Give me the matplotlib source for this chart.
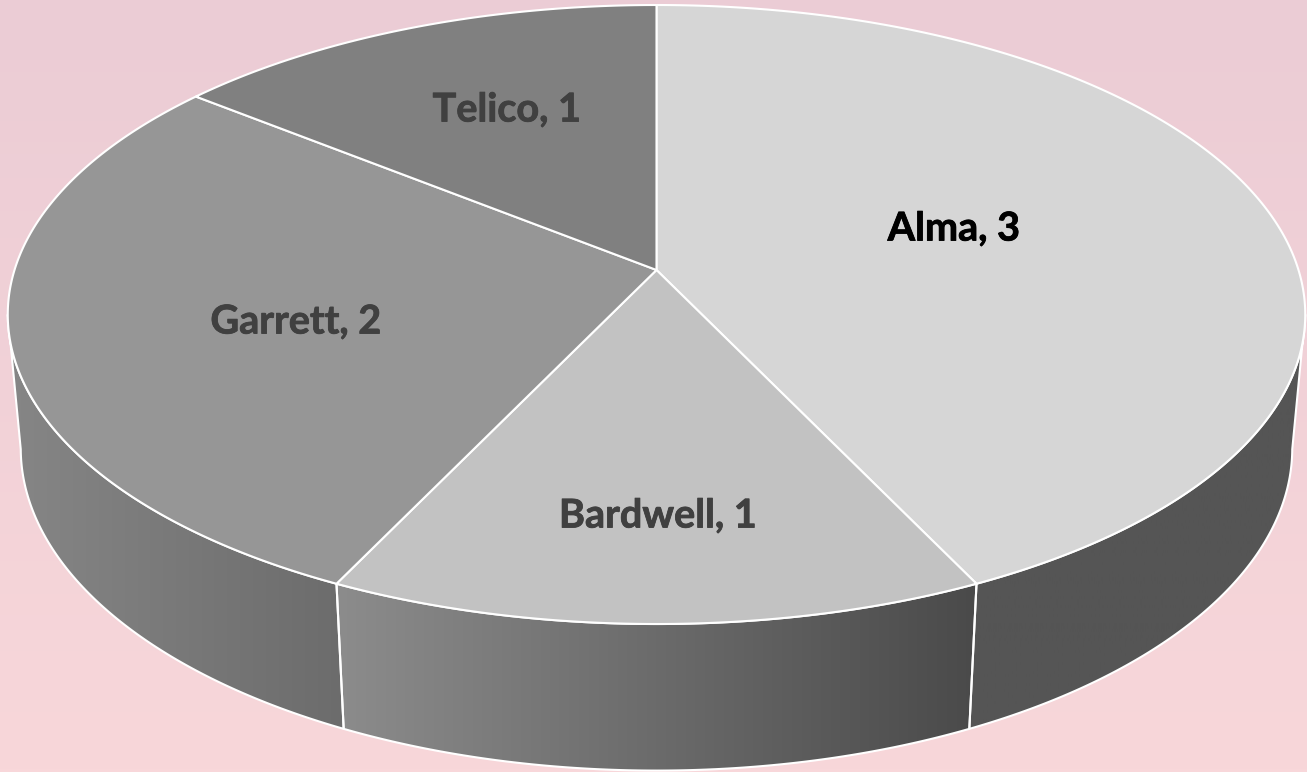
import numpy as np
import matplotlib
matplotlib.use("Agg")
import matplotlib.pyplot as plt
from matplotlib.patches import Polygon
from matplotlib.colors import LinearSegmentedColormap
import matplotlib.patheffects as pe

categories = ["Alma", "Bardwell", "Garrett", "Telico"]
values = [3, 1, 2, 1]

top_colors = ["#d6d6d6", "#c2c2c2", "#969696", "#808080"]
side_grad = {"Alma": ("#555555", "#555555"),
             "Bardwell": ("#8c8c8c", "#4a4a4a"),
             "Garrett": ("#868686", "#6c6c6c")}
label_colors = ["#000000", "#404040", "#404040", "#404040"]
label_pos = [(954, 229), (658, 516), (296, 322), (507, 110)]

# perspective projection of the pie disc onto the picture
CX, CY, A, B, K = 656.5, 270.0, 642.0, 303.1, 0.1438
M, C = 0.020, 135.5


def project(theta, depth=0.0):
    """theta clockwise from 12 o'clock; depth 0 = top face, 1 = bottom face."""
    u, v = np.sin(theta), np.cos(theta)
    w = 1 + K * v + M * depth
    return CX + A * u / w, CY + (-B * v + C * depth) / w


fig = plt.figure(figsize=(13.07, 7.72), dpi=100)
ax = fig.add_axes([0, 0, 1, 1])

bg = LinearSegmentedColormap.from_list("bg", ["#ebccd5", "#f8d7da"])
ax.imshow(np.linspace(0, 1, 256).reshape(-1, 1), cmap=bg, extent=(0, 1307, 772, 0),
          aspect="auto", zorder=0)

fractions = np.cumsum([0] + values) / np.sum(values)
angles = 2 * np.pi * fractions
visible_from = np.arccos(-K)          # silhouette of the disc, right side
visible_to = 2 * np.pi - visible_from  # left side

# side walls
for i, name in enumerate(categories):
    if name not in side_grad:
        continue
    t0 = max(angles[i], visible_from)
    t1 = min(angles[i + 1], visible_to)
    t = np.linspace(t0, t1, 200)
    xt, yt = project(t)
    xb, yb = project(t, 1)
    pts = np.column_stack([np.r_[xt, xb[::-1]], np.r_[yt, yb[::-1]]])
    x_min, x_max = pts[:, 0].min(), pts[:, 0].max()
    cmap = LinearSegmentedColormap.from_list(name, side_grad[name])
    poly = Polygon(pts, closed=True, facecolor="none", edgecolor="none")
    ax.add_patch(poly)
    im = ax.imshow(np.linspace(0, 1, 256).reshape(1, -1), cmap=cmap, vmin=0, vmax=1,
                   extent=(x_min, x_max, 772, 0), aspect="auto", zorder=2)
    im.set_clip_path(poly)
    ax.add_patch(Polygon(pts, closed=True, facecolor="none", edgecolor="white",
                         linewidth=1.5, joinstyle="round", zorder=3))

# top faces
for i, name in enumerate(categories):
    t = np.linspace(angles[i], angles[i + 1], 300)
    x, y = project(t)
    pts = np.column_stack([np.r_[CX, x], np.r_[CY, y]])
    ax.add_patch(Polygon(pts, closed=True, facecolor=top_colors[i], edgecolor="white",
                         linewidth=1.5, joinstyle="round", zorder=4))

# labels
for name, val, col, (lx, ly) in zip(categories, values, label_colors, label_pos):
    ax.text(lx, ly, f"{name}, {val}", color=col, ha="center", va="center",
            family="Lato", fontweight="bold", fontsize=28.5, zorder=6,
            path_effects=[pe.withStroke(linewidth=0.6, foreground=col)])

ax.set_xlim(0, 1307)
ax.set_ylim(772, 0)
ax.axis("off")
fig.savefig("out.png", dpi=100)
